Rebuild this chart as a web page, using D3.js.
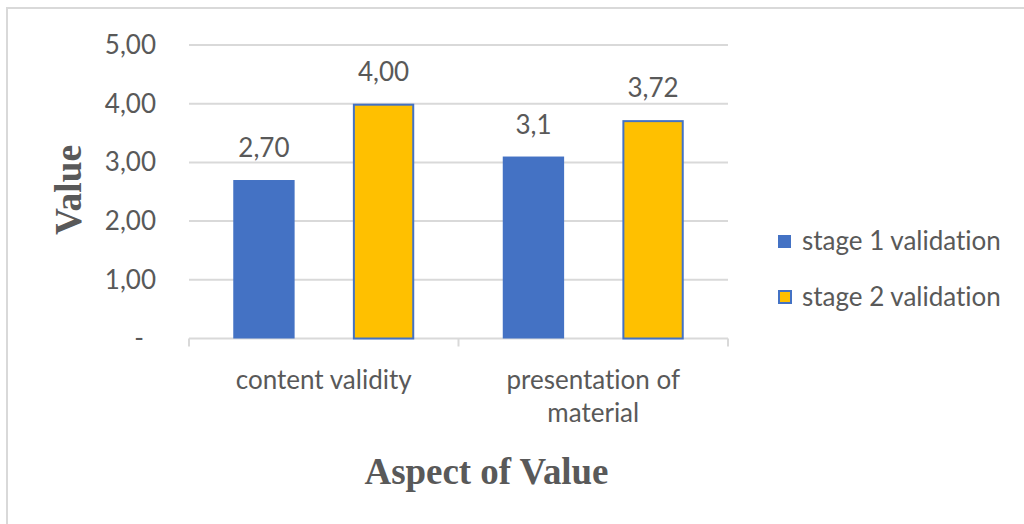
<!DOCTYPE html>
<html>
<head>
<meta charset="utf-8">
<script src="https://cdn.jsdelivr.net/npm/d3@7"></script>
<style>
  html, body { margin: 0; padding: 0; background: #ffffff; }
  svg { display: block; }
  text { font-variant-ligatures: none; font-feature-settings: "liga" 0; }
</style>
</head>
<body>
<svg id="chart" width="1024" height="524"></svg>
<script>
// Validation scores per aspect, two validation stages
const categories = ["content validity", "presentation of material"];
const seriesNames = ["stage 1 validation", "stage 2 validation"];
const stage1Values = [2.70, 3.1];
const stage2Values = [4.00, 3.72];
const valueLabels = [["2,70", "3,1"], ["4,00", "3,72"]];
const yTicks = [0, 1, 2, 3, 4, 5];
const seriesColors = ["#4472C4", "#FFC000"];

const svg = d3.select("#chart");
const W = 1024, H = 524;
const textColor = "#595959";
const sansFont = "Lato, 'Open Sans', sans-serif";
const serifFont = "'Liberation Serif', 'Times New Roman', serif";
const sansSize = "26px";

// chart frame
svg.append("rect")
  .attr("x", 7).attr("y", 8)
  .attr("width", W + 20).attr("height", H + 20)
  .attr("fill", "#ffffff")
  .attr("stroke", "#d9d9d9").attr("stroke-width", 2);

const plot = { left: 189, right: 728, top: 45, bottom: 338.5 };

const y = d3.scaleLinear().domain([0, 5]).range([plot.bottom, plot.top]);
const x = d3.scaleBand().domain(categories).range([plot.left, plot.right]).padding(0);
const xSub = d3.scaleBand().domain(seriesNames)
  .range([0, x.bandwidth()]).paddingInner(0.487).paddingOuter(0.37);

// gridlines
svg.append("g")
  .selectAll("line")
  .data(yTicks.filter(d => d > 0))
  .join("line")
  .attr("x1", plot.left).attr("x2", plot.right)
  .attr("y1", d => y(d)).attr("y2", d => y(d))
  .attr("stroke", "#d9d9d9").attr("stroke-width", 2);

// y axis labels
const yAxis = svg.append("g")
  .attr("transform", `translate(${plot.left},0)`)
  .call(d3.axisLeft(y).tickValues(yTicks)
    .tickFormat(d => d === 0 ? "-" : d3.format(".2f")(d).replace(".", ","))
    .tickSize(0).tickPadding(33));
yAxis.select(".domain").remove();
yAxis.selectAll("text")
  .attr("fill", textColor)
  .style("font-family", sansFont)
  .style("font-size", sansSize)
  .attr("dx", d => d === 0 ? -12 : 0);

// category axis
const xAxis = svg.append("g")
  .attr("transform", `translate(0,${plot.bottom})`);
xAxis.append("line")
  .attr("x1", plot.left).attr("x2", plot.right)
  .attr("stroke", "#d9d9d9").attr("stroke-width", 2);
const boundaries = categories.map(c => x(c)).concat([x(categories[categories.length - 1]) + x.bandwidth()]);
xAxis.selectAll("line.tick")
  .data(boundaries)
  .join("line")
  .attr("class", "tick")
  .attr("x1", d => d).attr("x2", d => d)
  .attr("y1", 0).attr("y2", 8)
  .attr("stroke", "#d9d9d9").attr("stroke-width", 2);

const catLines = [["content validity"], ["presentation of", "material"]];
categories.forEach((c, i) => {
  const t = xAxis.append("text")
    .attr("x", x(c) + x.bandwidth() / 2)
    .attr("y", 50)
    .attr("text-anchor", "middle")
    .attr("fill", textColor)
    .style("font-family", sansFont)
    .style("font-size", sansSize);
  catLines[i].forEach((line, j) => {
    t.append("tspan")
      .attr("x", x(c) + x.bandwidth() / 2)
      .attr("dy", j === 0 ? 0 : 33)
      .text(line);
  });
});

// bars
const seriesData = [stage1Values, stage2Values];
seriesData.forEach((vals, s) => {
  const g = svg.append("g");
  g.selectAll("rect")
    .data(vals)
    .join("rect")
    .attr("x", (d, i) => x(categories[i]) + xSub(seriesNames[s]) + (s === 1 ? 1 : 0))
    .attr("y", d => y(d) + (s === 1 ? 1 : 0))
    .attr("width", xSub.bandwidth() - (s === 1 ? 2 : 0))
    .attr("height", d => plot.bottom - y(d) - (s === 1 ? 1 : 0))
    .attr("fill", seriesColors[s])
    .attr("stroke", s === 1 ? "#4472C4" : "none")
    .attr("stroke-width", 2);
  g.selectAll("text")
    .data(vals)
    .join("text")
    .attr("x", (d, i) => x(categories[i]) + xSub(seriesNames[s]) + xSub.bandwidth() / 2)
    .attr("y", d => y(d) - 23)
    .attr("text-anchor", "middle")
    .attr("fill", textColor)
    .style("font-family", sansFont)
    .style("font-size", sansSize)
    .text((d, i) => valueLabels[s][i]);
});

// axis titles
svg.append("text")
  .attr("transform", "translate(81,190) rotate(-90)")
  .attr("text-anchor", "middle")
  .attr("fill", textColor)
  .style("font-family", serifFont)
  .style("font-weight", "bold")
  .style("font-size", "38px")
  .attr("textLength", 90)
  .attr("lengthAdjust", "spacingAndGlyphs")
  .text("Value");

svg.append("text")
  .attr("x", (plot.left + plot.right) / 2 + 28)
  .attr("y", 484)
  .attr("text-anchor", "middle")
  .attr("fill", textColor)
  .style("font-family", serifFont)
  .style("font-weight", "bold")
  .style("font-size", "38px")
  .attr("textLength", 244)
  .attr("lengthAdjust", "spacingAndGlyphs")
  .text("Aspect of Value");

// legend
const legend = svg.append("g").attr("transform", "translate(778,0)");
const legendY = [241, 297];
seriesNames.forEach((name, i) => {
  legend.append("rect")
    .attr("x", i === 1 ? 1 : 0)
    .attr("y", legendY[i] - 6)
    .attr("width", i === 1 ? 12 : 13)
    .attr("height", i === 1 ? 12 : 13)
    .attr("fill", seriesColors[i])
    .attr("stroke", i === 1 ? "#4472C4" : "none")
    .attr("stroke-width", 2);
  legend.append("text")
    .attr("x", 24)
    .attr("y", legendY[i])
    .attr("dy", "0.35em")
    .attr("fill", textColor)
    .style("font-family", sansFont)
    .style("font-size", sansSize)
    .text(name);
});
</script>
</body>
</html>
